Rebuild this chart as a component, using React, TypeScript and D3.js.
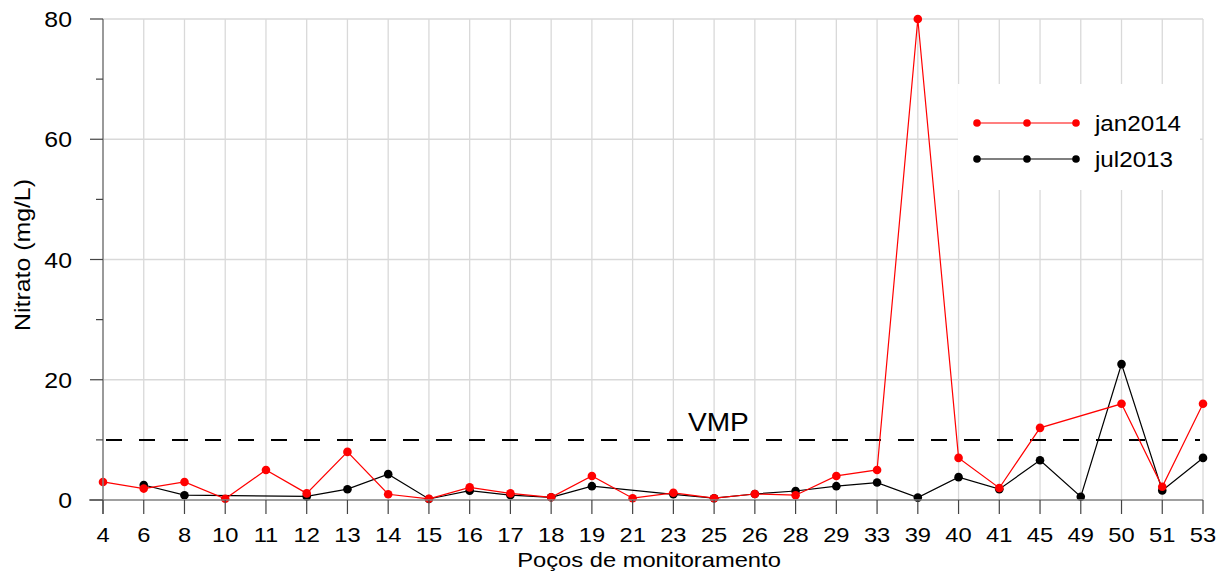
import React from "react";
import * as d3 from "d3";

const categories = ["4","6","8","10","11","12","13","14","15","16","17","18","19","21","23","25","26","28","29","33","39","40","41","45","49","50","51","53"];
const jan2014: (number | null)[] = [3.0,1.9,3.0,0.2,5.0,1.1,8.0,0.95,0.2,2.1,1.1,0.45,4.0,0.3,1.2,0.3,1.0,0.8,4.0,5.0,80,7.0,2.0,12.0,null,16.0,2.2,16.0];
const jul2013: (number | null)[] = [null,2.5,0.8,null,null,0.6,1.8,4.3,0.17,1.55,0.8,0.45,2.3,null,0.95,0.3,1.0,1.5,2.3,2.9,0.4,3.8,1.8,6.6,0.55,22.6,1.6,7.0];
const yTicks = [0,20,40,60,80];
const yMinor = [10,30,50,70];
const vmp = 10;

const W = 1230, H = 576;
const left = 103, right = 1203, top = 19, bottom = 500;
const font = "Liberation Sans, Arial, sans-serif";

function T(props: { x: number; y: number; size: number; sx?: number; anchor?: string; rot?: number; dy?: string; children: React.ReactNode }) {
  const { x, y, size, sx = 1.13, anchor = "start", rot = 0, dy, children } = props;
  return (
    <text
      transform={`translate(${x},${y})${rot ? ` rotate(${rot})` : ""} scale(${sx},1)`}
      textAnchor={anchor}
      fontSize={size}
      dy={dy}
      fill="#000"
    >
      {children}
    </text>
  );
}

export default function App() {
  const x = d3.scalePoint<string>().domain(categories).range([left, right]);
  const y = d3.scaleLinear().domain([0, 80]).range([bottom, top]);
  const mk = (vals: (number | null)[]) =>
    categories.map((c, i) => ({ c, v: vals[i] })).filter(p => p.v !== null) as { c: string; v: number }[];
  const line = d3.line<{ c: string; v: number }>().x(d => x(d.c)!).y(d => y(d.v));
  const series = [
    { name: "jul2013", color: "#000000", pts: mk(jul2013) },
    { name: "jan2014", color: "#ff0000", pts: mk(jan2014) },
  ];
  const legend = [
    { name: "jan2014", color: "#ff0000", y: 123 },
    { name: "jul2013", color: "#000000", y: 159 },
  ];
  return (
    <svg width={W} height={H} style={{ position: "absolute", left: 0, top: 0, background: "#fff" }} fontFamily={font}>
      {categories.map(c => (
        <line key={"g" + c} x1={x(c)} x2={x(c)} y1={top} y2={bottom} stroke="#d9d9d9" strokeWidth={1.3} />
      ))}
      {yTicks.filter(t => t > 0).map(t => (
        <line key={"h" + t} x1={left} x2={right} y1={y(t)} y2={y(t)} stroke="#d9d9d9" strokeWidth={1.3} />
      ))}
      <line x1={left} x2={1200} y1={y(vmp)} y2={y(vmp)} stroke="#000" strokeWidth={2} strokeDasharray="16,17" strokeDashoffset={-3} />
      <T x={688} y={431} size={26.5} sx={1.06}>VMP</T>
      {series.map(s => (
        <g key={s.name}>
          <path d={line(s.pts)!} fill="none" stroke={s.color} strokeWidth={1.2} />
          {s.pts.map(p => (
            <circle key={p.c} cx={x(p.c)} cy={y(p.v)} r={4.3} fill={s.color} />
          ))}
        </g>
      ))}
      <line x1={left} x2={left} y1={top} y2={514} stroke="#808080" strokeWidth={1.5} />
      <line x1={89} x2={right} y1={bottom} y2={bottom} stroke="#808080" strokeWidth={1.5} />
      {yTicks.map(t => (
        <g key={"yt" + t}>
          <line x1={90} x2={left} y1={y(t)} y2={y(t)} stroke="#444" strokeWidth={1.2} />
          <T x={72} y={y(t) + 8} size={22} anchor="end">{t}</T>
        </g>
      ))}
      {yMinor.map(t => (
        <line key={"ym" + t} x1={96} x2={left} y1={y(t)} y2={y(t)} stroke="#444" strokeWidth={1.2} />
      ))}
      {categories.map(c => (
        <g key={"xt" + c}>
          <line x1={x(c)} x2={x(c)} y1={bottom} y2={514} stroke="#444" strokeWidth={1.2} />
          <T x={x(c)!} y={542} size={21} anchor="middle">{c}</T>
        </g>
      ))}
      <T x={649} y={567} size={21} anchor="middle">Poços de monitoramento</T>
      <T x={30} y={255} size={22} anchor="middle" rot={-90}>Nitrato (mg/L)</T>
      <rect x={958} y={84} width={242} height={106} fill="#fff" />
      {legend.map(l => (
        <g key={"l" + l.name}>
          <line x1={977} x2={1076} y1={l.y} y2={l.y} stroke={l.color} strokeWidth={1.2} />
          {[977, 1027, 1076].map(cx => (
            <circle key={cx} cx={cx} cy={l.y} r={3.8} fill={l.color} />
          ))}
          <T x={1095} y={l.y + 8} size={22} sx={1.1}>{l.name}</T>
        </g>
      ))}
    </svg>
  );
}
